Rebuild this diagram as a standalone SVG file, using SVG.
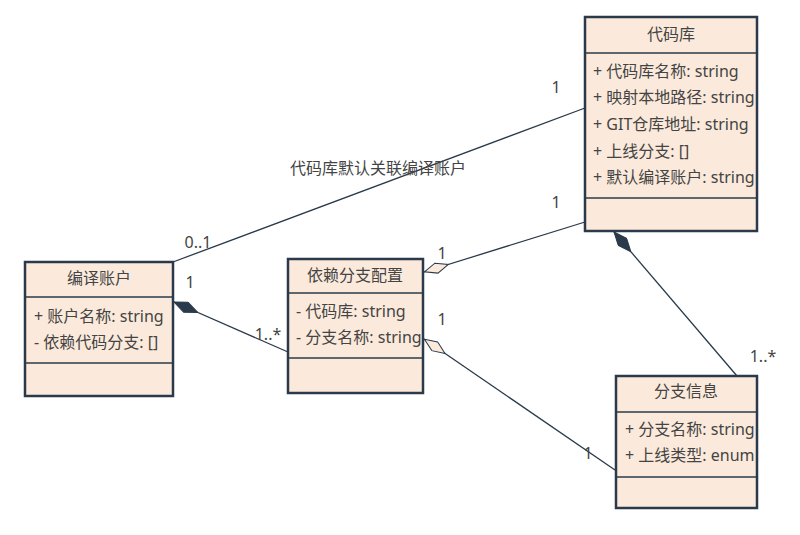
<svg xmlns="http://www.w3.org/2000/svg" width="800" height="535" viewBox="0 0 800 535">
<defs>
<style>
.box{fill:#fbeadb;stroke:#2a3a4a;stroke-width:2.5}
.div{stroke:#2a3a4a;stroke-width:1.5}
.t{font-family:"Noto Sans","Noto Sans CJK SC",sans-serif;font-size:16px;fill:#444}
.c{text-anchor:middle}
.ln{fill:none;stroke:#2a3a4a;stroke-width:1.3}
</style>
<marker id="comp" viewBox="0 0 26 12" refX="0" refY="6" markerWidth="26" markerHeight="12" markerUnits="userSpaceOnUse" orient="auto"><path d="M0,6 L13,0.5 L26,6 L13,11.5 Z" fill="#2a3a4a" stroke="#2a3a4a" stroke-width="1"/></marker>
<marker id="agg" viewBox="0 0 26 12" refX="0" refY="6" markerWidth="26" markerHeight="12" markerUnits="userSpaceOnUse" orient="auto"><path d="M0.5,6 L13,0.8 L25.5,6 L13,11.2 Z" fill="#fbeadb" stroke="#2a3a4a" stroke-width="1"/></marker>
</defs>
<rect width="800" height="535" fill="#fff"/>
<g id="connectors">
<line class="ln" x1="173" y1="262" x2="585" y2="108"/>
<line class="ln" x1="424" y1="272" x2="585" y2="222" marker-start="url(#agg)"/>
<line class="ln" x1="174" y1="302" x2="288" y2="352" marker-start="url(#comp)"/>
<line class="ln" x1="424" y1="339" x2="615" y2="470" marker-start="url(#agg)"/>
<line class="ln" x1="614" y1="232" x2="737" y2="376" marker-start="url(#comp)"/>
<text class="t c" x="378" y="174">代码库默认关联编译账户</text>
<text class="t c" x="556" y="93">1</text>
<text class="t c" x="198" y="248">0..1</text>
<text class="t c" x="556" y="208">1</text>
<text class="t c" x="442" y="259">1</text>
<text class="t c" x="190" y="288">1</text>
<text class="t c" x="268" y="340">1..*</text>
<text class="t c" x="442" y="325">1</text>
<text class="t c" x="588" y="459">1</text>
<text class="t c" x="763" y="362">1..*</text>
</g>
<g id="repo">
<rect class="box" x="585" y="17" width="172" height="214"/>
<line class="div" x1="585" y1="53" x2="757" y2="53"/>
<line class="div" x1="585" y1="198" x2="757" y2="198"/>
<text class="t c" x="671" y="40">代码库</text>
<text class="t" x="593" y="77">+ 代码库名称: string</text>
<text class="t" x="593" y="103">+ 映射本地路径: string</text>
<text class="t" x="593" y="130">+ GIT仓库地址: string</text>
<text class="t" x="593" y="157">+ 上线分支: []</text>
<text class="t" x="593" y="183">+ 默认编译账户: string</text>
</g>
<g id="account">
<rect class="box" x="25" y="262" width="148" height="134"/>
<line class="div" x1="25" y1="297" x2="173" y2="297"/>
<line class="div" x1="25" y1="363" x2="173" y2="363"/>
<text class="t c" x="99" y="284">编译账户</text>
<text class="t" x="34" y="322">+ 账户名称: string</text>
<text class="t" x="34" y="348">- 依赖代码分支: []</text>
</g>
<g id="depconfig">
<rect class="box" x="288" y="259" width="135" height="134"/>
<line class="div" x1="288" y1="293" x2="423" y2="293"/>
<line class="div" x1="288" y1="358" x2="423" y2="358"/>
<text class="t c" x="355" y="281">依赖分支配置</text>
<text class="t" x="296" y="317">- 代码库: string</text>
<text class="t" x="296" y="343">- 分支名称: string</text>
</g>
<g id="branch">
<rect class="box" x="616" y="376" width="141" height="132"/>
<line class="div" x1="616" y1="412" x2="757" y2="412"/>
<line class="div" x1="616" y1="477" x2="757" y2="477"/>
<text class="t c" x="686" y="397">分支信息</text>
<text class="t" x="625" y="435">+ 分支名称: string</text>
<text class="t" x="625" y="461">+ 上线类型: enum</text>
</g>
</svg>
